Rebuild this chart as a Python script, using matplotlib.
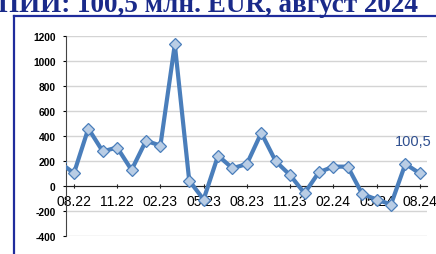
import numpy as np
import matplotlib as mpl
mpl.use('Agg')
import matplotlib.pyplot as plt
from matplotlib.lines import Line2D

# monthly FDI, mln EUR (07.22 is only partly visible at the left edge)
months = ['07.22', '08.22', '09.22', '10.22', '11.22', '12.22',
          '01.23', '02.23', '03.23', '04.23', '05.23', '06.23',
          '07.23', '08.23', '09.23', '10.23', '11.23', '12.23',
          '01.24', '02.24', '03.24', '04.24', '05.24', '06.24',
          '07.24', '08.24']
values = [190, 102, 460, 277, 308, 128,
          362, 323, 1133, 43, -108, 243,
          142, 176, 425, 198, 87, -58,
          110, 155, 155, -63, -108, -148,
          177, 100.5]
tick_labels = ['08.22', '11.22', '02.23', '05.23', '08.23',
               '11.23', '02.24', '05.24', '08.24']
yticks = [-400, -200, 0, 200, 400, 600, 800, 1000, 1200]
title = 'ПИИ: 100,5 млн. EUR, август 2024'
last_label = '100,5'

line_color = '#4A7EBB'
marker_face = '#B9CDE5'
navy = '#1F2C9C'

plt.rcParams['font.family'] = ['Liberation Sans', 'DejaVu Sans']

fig = plt.figure(figsize=(4.36, 2.55), dpi=100)
ax = fig.add_axes([66 / 436, 18 / 255, 361 / 436, 200 / 255])

x = np.arange(len(months))
ax.plot(x, values, color=line_color, lw=3.0, marker='D', ms=6.6,
        mfc=marker_face, mec=line_color, mew=0.9, zorder=3)

ax.set_xlim(0.45, 25.5)
ax.set_ylim(-400, 1200)
ax.set_yticks(yticks)
ax.set_yticklabels([str(v) for v in yticks], fontsize=7.4, fontweight='bold')
ax.set_xticks([months.index(m) for m in tick_labels])
ax.set_xticklabels(tick_labels, fontsize=6.8, fontweight='bold', color='#8C8C8C')

ax.grid(axis='y', color='#D4D4D4', lw=1.0)
ax.set_axisbelow(True)
for s in ['top', 'right']:
    ax.spines[s].set_visible(False)
ax.spines['bottom'].set_position(('data', 0))
ax.spines['bottom'].set_color('#222222')
ax.spines['left'].set_color('#444444')
ax.tick_params(axis='y', length=2.5, width=0.8, pad=5)
ax.tick_params(axis='x', length=3, width=0.8, direction='inout', pad=4)

ax.annotate(last_label, xy=(x[-1], values[-1]), xytext=(-5, 23),
            textcoords='offset points', ha='center', va='center',
            fontsize=10.5, color='#2F4F8F')

# frame around the chart and the cut title above it
fig.add_artist(Line2D([14 / 436, 14 / 436], [0, 1 - 17 / 255],
                      color=navy, lw=1.6))
fig.add_artist(Line2D([14 / 436, 1], [1 - 17 / 255, 1 - 17 / 255],
                      color=navy, lw=1.6))
fig.text(-0.005, 1 - 11.5 / 255, title, fontsize=19.5, fontweight='bold',
         family='Liberation Serif', color='#1A2A8A', va='baseline', ha='left')

fig.savefig('out.png', dpi=100)
